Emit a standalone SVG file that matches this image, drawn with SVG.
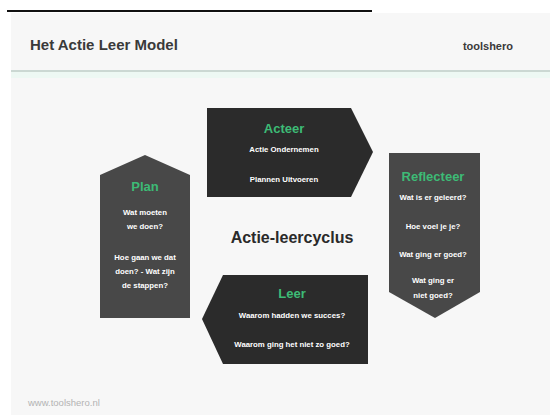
<svg xmlns="http://www.w3.org/2000/svg" width="550" height="415" viewBox="0 0 550 415">
  <style>
    .hdr { font-family: "Liberation Sans", Arial, sans-serif; font-weight: bold; fill: #3a3a3a; }
    .ttl { font-family: "Liberation Sans", Arial, sans-serif; font-weight: bold; font-size: 13px; fill: #3dbb76; text-anchor: middle; }
    .txt { font-family: "Liberation Sans", Arial, sans-serif; font-weight: bold; font-size: 7.8px; fill: #ffffff; text-anchor: middle; }
    .dark { fill: #2b2b2b; }
    .mid { fill: #484848; }
  </style>
  <rect x="0" y="0" width="550" height="415" fill="#ffffff"/>
  <!-- page panel -->
  <rect x="11" y="13" width="539" height="402" fill="#f7f7f7"/>
  <line x1="7" y1="11" x2="372" y2="11" stroke="#111111" stroke-width="2"/>
  <rect x="11" y="72" width="539" height="6" fill="#edf8f3"/>
  <line x1="11" y1="71" x2="550" y2="71" stroke="#9fb9ae" stroke-width="1"/>
  <text class="hdr" x="30" y="50" font-size="15">Het Actie Leer Model</text>
  <text class="hdr" x="513" y="50" font-size="11" text-anchor="end">toolshero</text>

  <g id="acteer">
    <path class="dark" d="M207 108 H351 L373 152 L351 197 H207 Z"/>
    <text class="ttl" x="284" y="133">Acteer</text>
    <text class="txt" x="284" y="152">Actie Ondernemen</text>
    <text class="txt" x="284" y="182">Plannen Uitvoeren</text>
  </g>

  <g id="plan">
    <path class="mid" d="M100 175 L145 155 L190 175 V318 H100 Z"/>
    <text class="ttl" x="145" y="191">Plan</text>
    <text class="txt" x="145" y="215">Wat moeten</text>
    <text class="txt" x="145" y="229">we doen?</text>
    <text class="txt" x="145" y="260">Hoe gaan we dat</text>
    <text class="txt" x="145" y="274">doen? - Wat zijn</text>
    <text class="txt" x="145" y="288">de stappen?</text>
  </g>

  <g id="reflecteer">
    <path class="mid" d="M389 153 H480 V292 L435 318 L389 292 Z"/>
    <text class="ttl" x="433" y="181">Reflecteer</text>
    <text class="txt" x="433" y="200">Wat is er geleerd?</text>
    <text class="txt" x="433" y="229">Hoe voel je je?</text>
    <text class="txt" x="433" y="257">Wat ging er goed?</text>
    <text class="txt" x="433" y="283">Wat ging er</text>
    <text class="txt" x="433" y="298">niet goed?</text>
  </g>

  <g id="leer">
    <path class="dark" d="M223 275 H368 V364 H223 L202 319 Z"/>
    <text class="ttl" x="292" y="298">Leer</text>
    <text class="txt" x="292" y="318">Waarom hadden we succes?</text>
    <text class="txt" x="292" y="347">Waarom ging het niet zo goed?</text>
  </g>

  <g id="centre">
    <text x="292" y="243" font-family="'Liberation Sans', Arial, sans-serif" font-size="16" font-weight="bold" fill="#2a2a2a" text-anchor="middle">Actie-leercyclus</text>
  </g>

  <text x="28" y="406" font-family="'Liberation Sans', Arial, sans-serif" font-size="9.5" fill="#b3b3b3">www.toolshero.nl</text>
</svg>
